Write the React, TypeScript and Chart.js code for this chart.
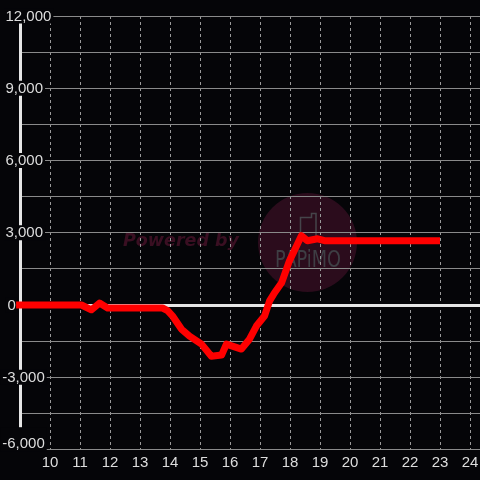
import React, { useEffect, useRef } from 'react';
import { Chart, registerables } from 'chart.js';

Chart.register(...registerables);

// Hours of the day (x) and cumulative balance (y)
const hours = [8.87, 11.05, 11.38, 11.65, 11.92, 13.75, 13.92, 14.08, 14.38, 14.65, 15.05, 15.38, 15.72, 15.88, 16.38, 16.65, 16.88, 17.15, 17.32, 17.48, 17.72, 17.98, 18.38, 18.58, 18.92, 19.15, 23.0];
const balance = [0, 0, -200, 80, -125, -125, -230, -450, -1000, -1290, -1625, -2125, -2080, -1625, -1830, -1420, -875, -460, 170, 500, 920, 1830, 2875, 2670, 2750, 2670, 2670];

const xMin = 9;
const xMax = 24.3333;
const xStep = 1;
const yMin = -6000;
const yMax = 12000;
const yGridStep = 1500;
const yLabelValues = [12000, 9000, 6000, 3000, 0, -3000, -6000];

const watermarkText = 'Powered by';
const logoText = 'PAPiMO';

const BG = '#050508';
const LABEL = '#dddddd';
const FONT = "'Liberation Sans', Arial, sans-serif";
const FONT_SIZE = 15;

const fmt = (v: number) => v.toLocaleString('en-US');

const watermark = {
  id: 'watermark',
  beforeDraw(chart: any) {
    const ctx = chart.ctx as CanvasRenderingContext2D;
    ctx.save();
    ctx.fillStyle = BG;
    ctx.fillRect(0, 0, chart.width, chart.height);
    ctx.fillStyle = '#2b0c1c';
    ctx.beginPath();
    ctx.arc(307.5, 242.5, 49.5, 0, Math.PI * 2);
    ctx.fill();
    ctx.font = "italic bold 17px 'DejaVu Sans', sans-serif";
    ctx.fillStyle = '#3a0f22';
    ctx.textBaseline = 'alphabetic';
    ctx.textAlign = 'left';
    const w1 = ctx.measureText(watermarkText).width;
    ctx.save();
    ctx.translate(123, 246);
    ctx.scale(116 / w1, 1);
    ctx.fillText(watermarkText, 0, 0);
    ctx.restore();
    ctx.strokeStyle = '#45444a';
    ctx.lineWidth = 1.5;
    ctx.beginPath();
    ctx.moveTo(300.5, 242);
    ctx.lineTo(300.5, 217.5);
    ctx.lineTo(311.5, 217.5);
    ctx.lineTo(311.5, 213.5);
    ctx.lineTo(316, 213.5);
    ctx.lineTo(316, 242);
    ctx.stroke();
    ctx.font = "23px 'Liberation Sans Narrow', 'DejaVu Sans Condensed', sans-serif";
    ctx.fillStyle = '#3e3e44';
    const w2 = ctx.measureText(logoText).width;
    ctx.save();
    ctx.translate(275, 267);
    ctx.scale(66 / w2, 1);
    ctx.fillText(logoText, 0, 0);
    ctx.restore();
    ctx.restore();
  },
};

// y-axis labels drawn over the axis line with a dark backdrop
const yLabels = {
  id: 'yLabels',
  beforeDatasetsDraw(chart: any) {
    const ctx = chart.ctx as CanvasRenderingContext2D;
    const ys = chart.scales.y;
    const bottom = chart.chartArea.bottom;
    ctx.save();
    ctx.font = `${FONT_SIZE}px ${FONT}`;
    ctx.textAlign = 'left';
    ctx.textBaseline = 'middle';
    yLabelValues.forEach((v) => {
      const text = fmt(v);
      const w = ctx.measureText(text).width;
      let y = ys.getPixelForValue(v);
      const x0 = v < 0 ? 2.2 : v === 0 ? 7.4 : 5.5;
      let top = y - 7.5;
      let bot = y + 7.5;
      if (y + 7 > bottom) {
        y = bottom - 6.3;
        top = y - 16;
        bot = bottom + 2;
      }
      ctx.fillStyle = BG;
      ctx.fillRect(x0 - 1.5, top, w + 3.5, bot - top);
      ctx.fillStyle = LABEL;
      ctx.fillText(text, x0, y + 0.5);
    });
    ctx.restore();
  },
};

export default function App() {
  const ref = useRef<HTMLCanvasElement>(null);
  useEffect(() => {
    document.body.style.margin = '0';
    const canvas = ref.current;
    if (!canvas) return;
    const chart = new Chart(canvas, {
      type: 'line',
      data: {
        datasets: [
          {
            data: hours.map((h, i) => ({ x: h, y: balance[i] })),
            borderColor: '#ff0000',
            borderWidth: 7,
            pointRadius: 0,
            tension: 0,
            fill: false,
            borderJoinStyle: 'round',
            borderCapStyle: 'butt',
            clip: false as any,
          },
        ],
      },
      options: {
        responsive: false,
        animation: false,
        events: [],
        layout: { padding: { left: 20, top: 16, right: 0, bottom: 4.5 } },
        plugins: { legend: { display: false }, tooltip: { enabled: false }, title: { display: false } },
        scales: {
          x: {
            type: 'linear',
            min: xMin,
            max: xMax,
            ticks: {
              stepSize: xStep,
              includeBounds: false,
              autoSkip: false,
              maxRotation: 0,
              padding: 0,
              color: LABEL,
              font: { family: FONT, size: FONT_SIZE, lineHeight: 26 / 15 },
              callback: (v: any) => (v === xMin ? '' : String(v)),
            },
            grid: { color: '#9a9a9a', lineWidth: 1, drawTicks: false },
            border: { display: false, dash: [3, 3] },
          },
          y: {
            type: 'linear',
            min: yMin,
            max: yMax,
            ticks: { stepSize: yGridStep, display: false },
            grid: {
              color: (c: any) => (c.tick && c.tick.value === 0 ? '#e6e6e6' : '#8a8a8a'),
              lineWidth: (c: any) => (c.tick && c.tick.value === 0 ? 3 : 1),
              drawTicks: false,
            },
            border: { color: '#e6e6e6', width: 3 },
          },
        },
      },
      plugins: [watermark, yLabels],
    } as any);
    return () => chart.destroy();
  }, []);
  return (
    <div style={{ width: 480, height: 480 }}>
      <canvas ref={ref} width={480} height={480} style={{ display: 'block' }} />
    </div>
  );
}
